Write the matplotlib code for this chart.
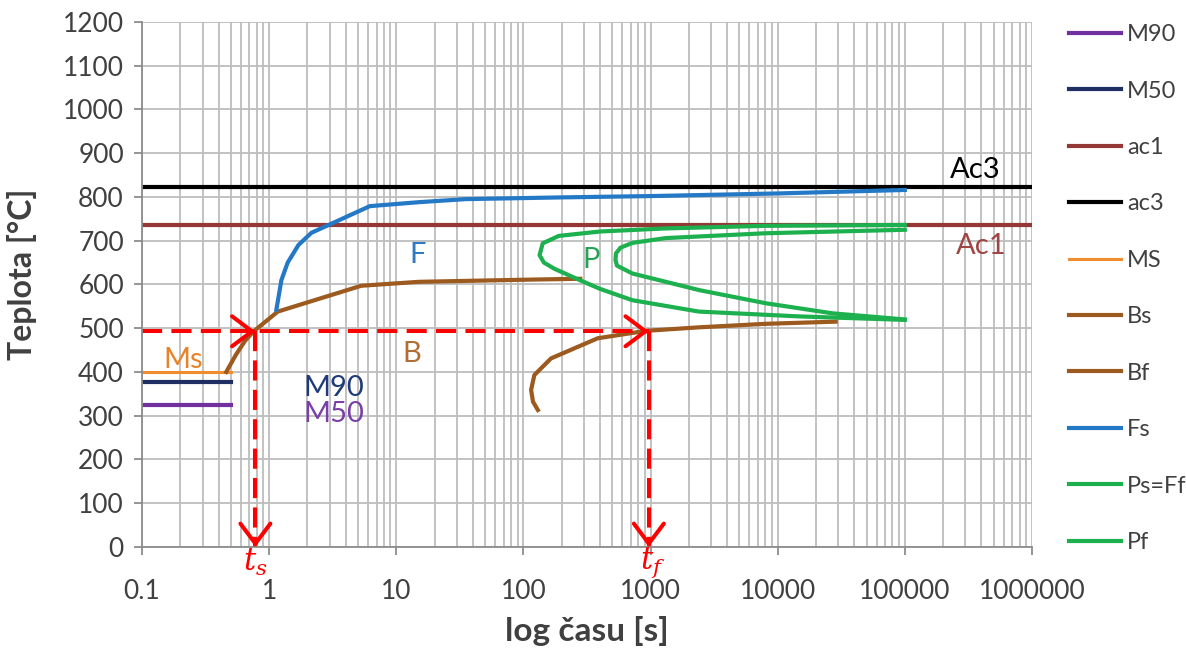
import matplotlib
matplotlib.use('Agg')
import matplotlib.pyplot as plt
from matplotlib.ticker import FixedLocator, FixedFormatter, LogLocator, NullFormatter

plt.rcParams['font.family'] = ['Lato', 'DejaVu Sans']

# data (time in s, temperature in degC)
x_full = [0.1, 1000000]
ac3_val = [823, 823]
ac1_val = [736, 736]
x_short = [0.1, 0.5]
ms_val = [400, 400]
m90_val = [325, 325]
m50_val = [377, 377]

bs_x = [0.46, 0.55, 0.65, 0.75, 1.17, 5.3, 15, 110, 280]
bs_y = [400, 440, 472, 492, 538, 597, 606, 611, 613]

bf_x = [130, 119, 115, 122, 165, 384, 920, 2400, 8000, 28600]
bf_y = [313, 332, 359, 393, 431, 477, 494, 502, 510, 515]

fs_x = [1.14, 1.25, 1.4, 1.7, 2.15, 6.2, 15, 35, 200, 1000, 10000, 100000]
fs_y = [542, 610, 650, 690, 718, 779, 788, 795, 799, 802, 808, 816]

ps_x = [100000, 8000, 1300, 400, 190, 142, 134, 145, 175, 277, 400, 720, 2400, 14700, 100000]
ps_y = [736, 734, 728, 721, 711, 694, 667, 650, 636, 610, 590, 564, 538, 527, 519]

pf_x = [100000, 8000, 1320, 720, 580, 535, 530, 545, 720, 2420, 8070, 27000, 100000]
pf_y = [725, 717, 706, 695, 684, 671, 656, 643, 625, 587, 557, 534, 520]

t_s = 0.78
t_f = 970
t_iso = 493

x_ticks = [0.1, 1, 10, 100, 1000, 10000, 100000, 1000000]
x_labels = ['0.1', '1', '10', '100', '1000', '10000', '100000', '1000000']
y_ticks = list(range(0, 1300, 100))

fig = plt.figure(figsize=(11.86, 6.51), dpi=100)
ax = fig.add_axes([0.1197, 0.1598, 0.7504, 0.8065])

brown = '#9C5A1E'
green = '#1DB04E'
lw = 3

ax.plot(x_short, m90_val, color='#7030A0', lw=lw, label='M90')
ax.plot(x_short, m50_val, color='#1F2F64', lw=lw, label='M50')
ax.plot(x_full, ac1_val, color='#953735', lw=lw, label='ac1')
ax.plot(x_full, ac3_val, color='black', lw=lw, label='ac3')
ax.plot(x_short, ms_val, color='#F08C2E', lw=2.2, label='MS')
ax.plot(bs_x, bs_y, color=brown, lw=lw, label='Bs')
ax.plot(bf_x, bf_y, color=brown, lw=lw, label='Bf')
ax.plot(fs_x, fs_y, color='#2479C6', lw=lw, label='Fs')
ax.plot(ps_x, ps_y, color=green, lw=lw, label='Ps=Ff')
ax.plot(pf_x, pf_y, color=green, lw=lw, label='Pf')

# red isothermal path with arrows
dash = dict(color='red', lw=2.9, ls=(0, (5, 2.3)))
ax.plot([0.1, t_f], [t_iso, t_iso], **dash)
ax.plot([t_s, t_s], [t_iso, 0], **dash)
ax.plot([t_f, t_f], [t_iso, 0], **dash)
head = dict(arrowstyle='->,head_length=0.6,head_width=0.45', color='red', lw=2.9,
            mutation_scale=24, shrinkA=0, shrinkB=0)
for tx in [t_s, t_f]:
    ax.annotate('', xy=(tx, t_iso), xytext=(-3, 0), textcoords='offset points', arrowprops=head)
    ax.annotate('', xy=(tx, 0), xytext=(0, 3), textcoords='offset points', arrowprops=head)

ax.text(t_s, -36, r'$t_s$', color='red', fontsize=22, ha='center', va='center',
        math_fontfamily='dejavuserif', clip_on=False)
ax.text(t_f * 1.07, -36, r'$t_f$', color='red', fontsize=22, ha='center', va='center',
        math_fontfamily='dejavuserif', clip_on=False)

# curve labels
lab = dict(fontsize=21, ha='center', va='center')
ax.text(0.21, 427, 'Ms', color='#E8832A', **lab)
ax.text(3.2, 363, 'M90', color='#1F3C78', **lab)
ax.text(3.2, 305, 'M50', color='#7A3FA8', **lab)
ax.text(14.7, 668, 'F', color='#2E7BC4', **lab)
ax.text(343, 656, 'P', color='#23A455', **lab)
ax.text(13.2, 440, 'B', color='#B06E32', **lab)
ax.text(355000, 862, 'Ac3', color='black', **lab)
ax.text(400000, 688, 'Ac1', color='#A04444', **lab)

ax.set_xscale('log')
ax.set_xlim(0.1, 1000000)
ax.set_ylim(0, 1200)
ax.xaxis.set_major_locator(FixedLocator(x_ticks))
ax.xaxis.set_major_formatter(FixedFormatter(x_labels))
ax.xaxis.set_minor_locator(LogLocator(base=10, subs=range(2, 10), numticks=20))
ax.xaxis.set_minor_formatter(NullFormatter())
ax.set_yticks(y_ticks)

grid_c = '#BDBDBD'
ax.set_axisbelow(True)
ax.grid(True, which='major', color=grid_c, lw=1.3)
ax.grid(True, which='minor', axis='x', color=grid_c, lw=1.3)
for s in ['top', 'right']:
    ax.spines[s].set_visible(False)
for s in ['left', 'bottom']:
    ax.spines[s].set_color('#8C8C8C')
    ax.spines[s].set_linewidth(1.3)
ax.tick_params(which='major', length=6, width=1.3, color='#8C8C8C', labelsize=19,
               labelcolor='#404040')
ax.tick_params(axis='x', which='major', pad=17)
ax.tick_params(axis='y', which='major', pad=7)
ax.tick_params(which='minor', length=0)

ax.set_xlabel('log času [s]', fontsize=24, fontweight='bold', color='#404040', labelpad=9)
ax.set_ylabel('Teplota [°C]', fontsize=23, fontweight='bold', color='#404040', labelpad=17)
ax.yaxis.set_label_coords(ax.yaxis.label.get_position()[0], 0.52)
ax.yaxis.set_label_coords(-0.118, 0.52)

fig.legend(loc='upper left', bbox_to_anchor=(1048 / 1186, 1 - 3 / 651), frameon=False,
           fontsize=17, handlelength=2.2, handletextpad=0.25, labelspacing=1.5,
           labelcolor='#404040')

fig.savefig('out.png', dpi=100)
